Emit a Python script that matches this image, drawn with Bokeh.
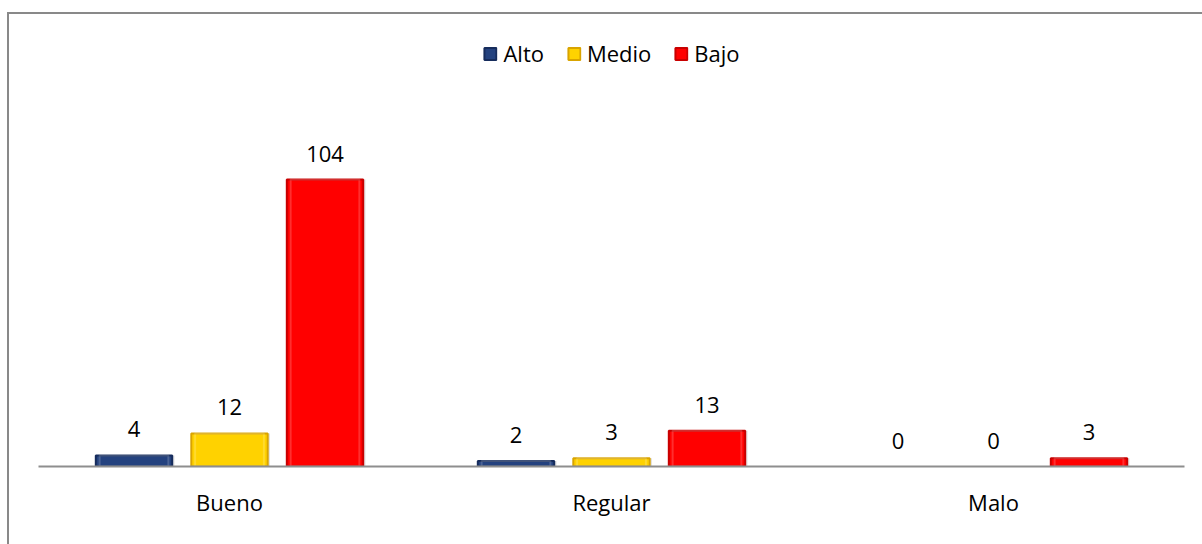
from bokeh.plotting import figure
from bokeh.models import (ColumnDataSource, FactorRange, Range1d, LabelSet, Legend, LegendItem,
                          InlineStyleSheet, CDSView, BooleanFilter)
from bokeh.core.properties import value
from bokeh.transform import dodge
from bokeh.embed import file_html
from bokeh.resources import INLINE

categories = ["Bueno", "Regular", "Malo"]
alto = [4, 2, 0]
medio = [12, 3, 0]
bajo = [104, 13, 3]

series_names = ["Alto", "Medio", "Bajo"]
series_values = [alto, medio, bajo]
fill_colors = ["#24427f", "#ffd200", "#ff0000"]
edge_colors = ["#162c5c", "#d9a400", "#c80000"]
offsets = [-0.25, 0.0, 0.25]

FONT = "Open Sans"

frame_css = InlineStyleSheet(css="""
:host { position: relative; }
:host::after {
  content: "";
  position: absolute;
  left: 7px; top: 12px; right: 0; bottom: 0;
  border-left: 2px solid #898989;
  border-top: 2px solid #898989;
  pointer-events: none;
}
""")

p = figure(
    x_range=FactorRange(*categories),
    y_range=Range1d(0, 158),
    width=1202, height=544,
    output_backend="svg", toolbar_location=None,
    y_axis_location=None,
    min_border_left=38, min_border_right=18,
    min_border_top=30, min_border_bottom=78,
    background_fill_color="white", border_fill_color="white",
    outline_line_color=None,
    stylesheets=[frame_css],
)
p.xgrid.grid_line_color = None
p.ygrid.grid_line_color = None

legend_items = []
for name, vals, fc, ec, off in zip(series_names, series_values, fill_colors, edge_colors, offsets):
    src = ColumnDataSource(dict(cat=categories, value=vals, label=[str(v) for v in vals]))
    # only bars with a non-zero height get drawn
    view = CDSView(filter=BooleanFilter([v > 0 for v in vals]))
    x = dodge("cat", off, range=p.x_range)
    # soft drop shadow to the right of each bar
    p.vbar(x=dodge("cat", off + 0.006, range=p.x_range), top="value", width=0.2, source=src,
           view=view, fill_color="#bdbdbd", fill_alpha=0.45, line_color=None)
    r = p.vbar(x=x, top="value", width=0.2, source=src, view=view,
               fill_color=fc, line_color=ec, line_width=2)
    # light inner edge for a bevelled look
    p.vbar(x=x, top="value", width=0.18, source=src, view=view,
           fill_alpha=0, line_color="white", line_alpha=0.18, line_width=2)
    legend_items.append(LegendItem(label=name, renderers=[r]))
    labels = LabelSet(x=x, y="value", text="label", source=src,
                      text_align="center", text_baseline="alphabetic", y_offset=18,
                      text_font=value(FONT), text_font_size="22px", text_color="#000000")
    p.add_layout(labels)

legend = Legend(items=legend_items, orientation="horizontal", location="top_center",
                label_text_font=FONT, label_text_font_size="22px", label_text_color="#000000",
                glyph_width=15, glyph_height=15, label_standoff=6, spacing=22,
                padding=0, margin=8, border_line_color=None, background_fill_alpha=0)
p.add_layout(legend)

ax = p.xaxis[0]
ax.axis_line_color = "#8e8e8e"
ax.axis_line_width = 2
ax.major_tick_line_color = None
ax.minor_tick_line_color = None
ax.major_label_text_font = FONT
ax.major_label_text_font_size = "22px"
ax.major_label_text_color = "#000000"
ax.major_label_standoff = 14

open("out.html", "w").write(file_html(p, INLINE))
